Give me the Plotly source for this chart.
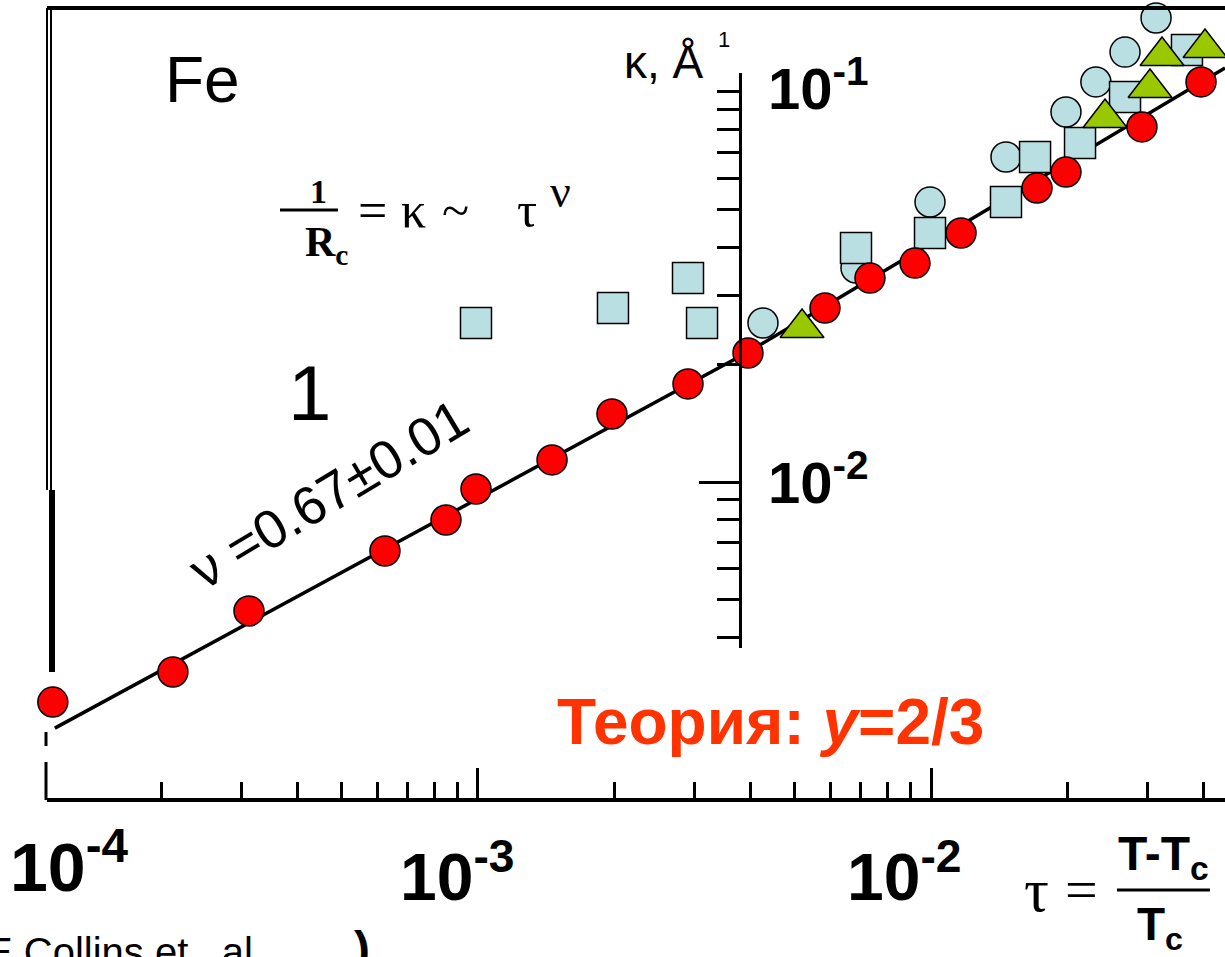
import plotly.graph_objects as go

W, H = 1225, 957

# ---------------- data (tau, kappa) ----------------
red_tau = [1.152e-4, 2.121e-4, 3.122e-4, 6.232e-4, 8.499e-4, 9.899e-4, 1.457e-3,
           1.976e-3, 2.908e-3, 3.945e-3, 5.834e-3, 7.333e-3, 9.219e-3, 1.165e-2,
           1.714e-2, 1.986e-2, 2.922e-2, 3.945e-2]
red_kappa = [2.728e-3, 3.257e-3, 4.670e-3, 6.654e-3, 7.991e-3, 9.596e-3, 1.139e-2,
             1.494e-2, 1.784e-2, 2.142e-2, 2.793e-2, 3.334e-2, 3.642e-2, 4.350e-2,
             5.673e-2, 6.235e-2, 8.135e-2, 0.1061]

sq_tau = [9.899e-4, 1.986e-3, 2.908e-3, 3.123e-3, 6.830e-3, 9.95e-3, 1.464e-2,
          1.697e-2, 2.133e-2, 2.681e-2, 3.673e-2]
sq_kappa = [2.557e-2, 2.793e-2, 3.334e-2, 2.557e-2, 3.981e-2, 4.350e-2, 5.223e-2,
            6.813e-2, 7.399e-2, 9.71e-2, 0.1281]

circ_tau = [4.257e-3, 6.830e-3, 9.95e-3, 1.464e-2, 1.986e-2, 2.312e-2, 2.681e-2, 3.139e-2]
circ_kappa = [2.557e-2, 3.537e-2, 5.223e-2, 6.813e-2, 8.887e-2, 0.1061, 0.1266, 0.1548]

tri_tau = [5.192e-3, 2.422e-2, 3.044e-2, 3.236e-2, 4.026e-2]
tri_kappa = [2.483e-2, 8.58e-2, 0.1024, 0.1237, 0.1297]

fit_tau = [1.164e-4, 3.945e-3, 4.457e-2]
fit_kappa = [2.339e-3, 2.154e-2, 0.1152]

x_major = [1e-3, 1e-2]
x_minor = [2e-4, 3e-4, 4e-4, 5e-4, 6e-4, 7e-4, 8e-4, 9e-4,
           2e-3, 3e-3, 4e-3, 5e-3, 6e-3, 7e-3, 8e-3, 9e-3,
           2e-2, 3e-2, 4e-2]
y_major = [1e-2]
y_minor = [4e-3, 5e-3, 6e-3, 7e-3, 8e-3, 9e-3,
           2e-2, 3e-2, 4e-2, 5e-2, 6e-2, 7e-2, 8e-2, 9e-2, 1e-1]

# ---------------- styling ----------------
RED = "#FF0000"
LBLUE = "#BADFE3"
GREEN = "#99C800"
ORANGE = "#FF3300"
SANS = "Liberation Sans"
SERIF = "Liberation Serif"


def px(x):
    return x / W


def py(y):
    return 1 - y / H


fig = go.Figure()

fig.add_trace(go.Scatter(x=fit_tau, y=fit_kappa, mode="lines",
                         line=dict(color="black", width=3.5), hoverinfo="skip"))
fig.add_trace(go.Scatter(x=circ_tau, y=circ_kappa, mode="markers", cliponaxis=False,
                         marker=dict(symbol="circle", size=30, color=LBLUE,
                                     line=dict(color="black", width=1.5))))
fig.add_trace(go.Scatter(x=sq_tau, y=sq_kappa, mode="markers", cliponaxis=False,
                         marker=dict(symbol="square", size=31, color=LBLUE,
                                     line=dict(color="black", width=1.5))))
fig.add_trace(go.Scatter(x=tri_tau, y=tri_kappa, mode="markers", cliponaxis=False,
                         marker=dict(symbol="triangle-up", size=38, color=GREEN,
                                     line=dict(color="black", width=1.5))))
fig.add_trace(go.Scatter(x=red_tau, y=red_kappa, mode="markers", cliponaxis=False,
                         marker=dict(symbol="circle", size=30, color=RED,
                                     line=dict(color="black", width=1.5))))
# empty trace so the separate vertical axis subplot exists
fig.add_trace(go.Scatter(x=[None], y=[None], xaxis="x2", yaxis="y2", hoverinfo="skip"))

# ---------------- axes ----------------
fig.update_layout(
    width=W, height=H, margin=dict(l=0, r=0, t=0, b=0),
    paper_bgcolor="white", plot_bgcolor="rgba(0,0,0,0)", showlegend=False,
    xaxis=dict(type="log", domain=[px(47), 1], range=[-3.9514, -1.3510],
               anchor="free", position=py(800),
               showline=True, linecolor="black", linewidth=4,
               showgrid=False, zeroline=False, showticklabels=False,
               tickmode="array", tickvals=x_major, ticks="inside", ticklen=30,
               tickwidth=3, tickcolor="black",
               minor=dict(tickmode="array", tickvals=x_minor, ticks="inside",
                          ticklen=16, tickwidth=3, tickcolor="black", showgrid=False)),
    yaxis=dict(type="log", domain=[0, 1], range=[-3.2179, -0.7641],
               visible=False, showgrid=False, zeroline=False),
    xaxis2=dict(domain=[px(742), px(742) + 0.05], anchor="y2", visible=False,
                range=[0, 1]),
    yaxis2=dict(type="log", domain=[py(648), py(73)], range=[-2.4256, -0.9513],
                anchor="x2", showline=True, linecolor="black", linewidth=3,
                showgrid=False, zeroline=False, showticklabels=False,
                tickmode="array", tickvals=y_major, ticks="outside", ticklen=40,
                tickwidth=3, tickcolor="black",
                minor=dict(tickmode="array", tickvals=y_minor, ticks="outside",
                           ticklen=22, tickwidth=3, tickcolor="black", showgrid=False)),
)

# ---------------- frame pieces of the scanned figure ----------------
def seg(x0, y0, x1, y1, w):
    fig.add_shape(type="line", xref="paper", yref="paper",
                  x0=px(x0), y0=py(y0), x1=px(x1), y1=py(y1),
                  line=dict(color="black", width=w))

seg(47, 8, 1225, 8, 4)
seg(47, 8, 47, 490, 2)
seg(51, 8, 51, 490, 2)
seg(52, 490, 52, 672, 6)
seg(46, 732, 46, 746, 3)
seg(46, 762, 46, 800, 3)
seg(280, 210, 338, 210, 3)      # fraction bar 1/Rc
seg(1117, 890, 1210, 890, 3)    # fraction bar tau


# ---------------- texts ----------------
def ann(text, x, y, size, family=SANS, color="black", xanchor="center",
        yanchor="middle", angle=0):
    fig.add_annotation(text=text, x=px(x), y=py(y), xref="paper", yref="paper",
                       showarrow=False, xanchor=xanchor, yanchor=yanchor,
                       textangle=angle, font=dict(size=size, family=family, color=color))

ann("Fe", 202, 80, 64)
ann("<b>1</b>", 318, 192, 34, SERIF)
ann("<b>R<sub>c</sub></b>", 326, 245, 42, SERIF)
ann("=", 372, 210, 52, SERIF)
ann("κ", 413, 210, 50, SERIF)
ann("~", 455, 210, 50, SERIF)
ann("τ", 527, 210, 50, SERIF)
ann("ν", 560, 192, 46, SERIF)
ann("1", 309, 393, 78)
ann("ν =0.67±0.01", 328, 494, 54, angle=-31)
ann("κ, Å", 664, 62, 46)
ann("1", 724, 40, 22)
ann("<b>10<sup>-1</sup></b>", 766, 85, 58, xanchor="left")
ann("<b>10<sup>-2</sup></b>", 766, 478, 58, xanchor="left")
ann("<b>10<sup>-4</sup></b>", 8, 862, 68, xanchor="left")
ann("<b>10<sup>-3</sup></b>", 398, 872, 66, xanchor="left")
ann("<b>10<sup>-2</sup></b>", 845, 872, 66, xanchor="left")
ann("τ", 1036, 890, 62, SERIF)
ann("=", 1081, 889, 58, SERIF)
ann("<b>T-T<sub>c</sub></b>", 1163, 857, 48)
ann("<b>T<sub>c</sub></b>", 1160, 927, 46)
ann("<b>Теория: <i>у</i>=2/3</b>", 555, 722, 64, color=ORANGE, xanchor="left")
ann("E Collins et.\u00a0\u00a0al", -16, 928, 40, xanchor="left", yanchor="top")
ann("<b>)</b>", 362, 948, 48)

fig.write_html("out.html")
